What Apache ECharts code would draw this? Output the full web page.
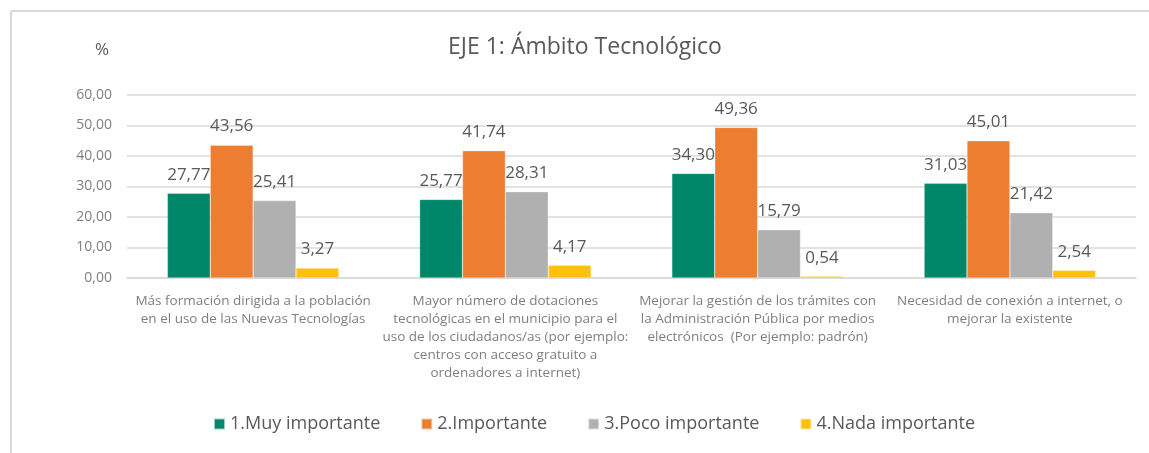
<!DOCTYPE html>
<html>
<head>
<meta charset="utf-8">
<script src="https://cdn.jsdelivr.net/npm/echarts@6/dist/echarts.min.js"></script>
<style>html,body{margin:0;padding:0;background:#fff}#c{width:1149px;height:453px}</style>
</head>
<body>
<div id="c"></div>
<script>
const categories = [
  'Más formación dirigida a la población\nen el uso de las Nuevas Tecnologías',
  'Mayor número de dotaciones\ntecnológicas en el municipio para el\nuso de los ciudadanos/as (por ejemplo:\ncentros con acceso gratuito a\nordenadores a internet)',
  'Mejorar la gestión de los trámites con\nla Administración Pública por medios\nelectrónicos  (Por ejemplo: padrón)',
  'Necesidad de conexión a internet, o\nmejorar la existente'
];
const seriesNames = ['1.Muy importante', '2.Importante', '3.Poco importante', '4.Nada importante'];
const muyImportante = [27.77, 25.77, 34.30, 31.03];
const importante = [43.56, 41.74, 49.36, 45.01];
const pocoImportante = [25.41, 28.31, 15.79, 21.42];
const nadaImportante = [3.27, 4.17, 0.54, 2.54];
const colors = ['#00876A', '#ED7D31', '#B0B0B0', '#FFC010'];
const titleText = 'EJE 1: Ámbito Tecnológico';
const unitText = '%';

const fmt = v => Number(v).toFixed(2).replace('.', ',');
const FONT = '"Open Sans", sans-serif';
const allData = [muyImportante, importante, pocoImportante, nadaImportante];

const chart = echarts.init(document.getElementById('c'), null, {renderer: 'canvas'});
chart.setOption({
  animation: false,
  color: colors,
  title: {
    text: titleText,
    left: 443,
    top: 31,
    textStyle: {fontFamily: FONT, fontSize: 23, fontWeight: 'normal', color: '#595959'}
  },
  graphic: [
    {type: 'text', left: 95, top: 42, style: {text: unitText, font: '17px ' + FONT, fill: '#595959'}},
    {type: 'line', shape: {x1: 11, y1: 11, x2: 1149, y2: 11}, style: {stroke: '#D9D9D9', lineWidth: 2}},
    {type: 'line', shape: {x1: 11, y1: 11, x2: 11, y2: 453}, style: {stroke: '#D9D9D9', lineWidth: 2}}
  ],
  legend: {
    top: 410,
    left: 208,
    itemWidth: 11,
    itemHeight: 11,
    itemGap: 40,
    icon: 'rect',
    textStyle: {fontFamily: FONT, fontSize: 18, color: '#595959'},
    data: seriesNames
  },
  grid: {left: 127, right: 13, top: 95, bottom: 175},
  xAxis: {
    type: 'category',
    data: categories,
    axisLine: {lineStyle: {color: '#D9D9D9', width: 1.5}},
    axisTick: {show: false},
    axisLabel: {interval: 0, margin: 14, fontFamily: FONT, fontSize: 13.5, color: '#7F7F7F', lineHeight: 18, align: 'center'}
  },
  yAxis: {
    type: 'value',
    min: 0, max: 60, interval: 10,
    axisLine: {show: false},
    axisTick: {show: false},
    splitLine: {lineStyle: {color: '#D9D9D9', width: 1.5}},
    axisLabel: {margin: 15, fontFamily: FONT, fontSize: 14, color: '#7F7F7F', formatter: v => fmt(v)}
  },
  series: seriesNames.map((n, i) => ({
    name: n,
    type: 'bar',
    data: allData[i],
    barGap: '0%',
    barCategoryGap: '32%',
    itemStyle: {color: colors[i], borderColor: 'rgba(255,255,255,0.6)', borderWidth: 0.5},
    label: {
      show: true, position: 'top', distance: 10,
      fontFamily: FONT, fontSize: 17, color: '#595959',
      formatter: p => fmt(p.value)
    }
  }))
});
</script>
</body>
</html>
